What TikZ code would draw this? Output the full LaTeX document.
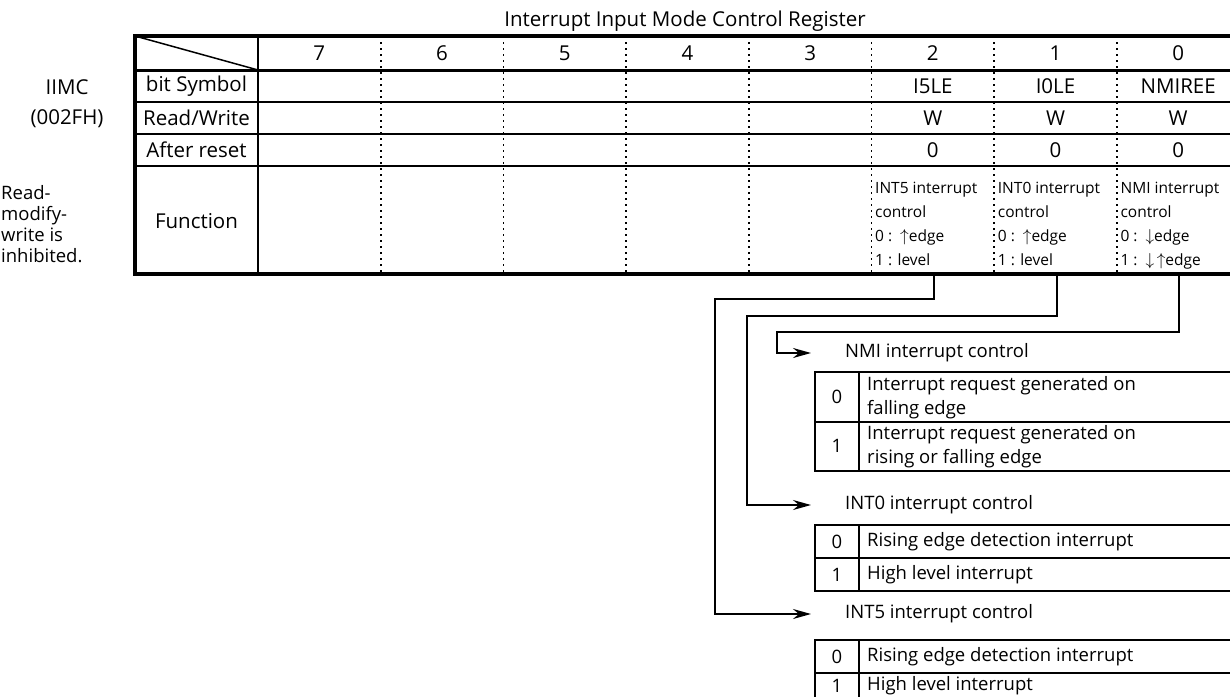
\documentclass[tikz,border=0pt]{standalone}
\usepackage{fontspec}
\setmainfont{Open Sans}
\usetikzlibrary{arrows.meta}

\begin{document}
\begin{tikzpicture}[x=1pt,y=-1pt,
    >={Stealth[length=18pt,width=10pt,inset=6pt]},
    txt/.style={font=\fontsize{20.5}{23}\selectfont,inner sep=0pt},
    sub/.style={font=\fontsize{18.5}{24}\selectfont,inner sep=0pt},
    fntxt/.style={font=\fontsize{15.5}{24}\selectfont,inner sep=0pt,anchor=north west,align=left},
    dots/.style={line width=1.8pt,dash pattern=on 1.8pt off 4.2pt},
    rowline/.style={line width=1.5pt},
    wire/.style={line width=2pt}]

\clip (0,0) rectangle (1230,696);

\node[txt] (title) at (685,21) {Interrupt Input Mode Control Register};

% register name on the left
\node[txt] (iimc) at (67,87) {IIMC};
\node[txt] (addr) at (67,119) {(002FH)};
\node[sub,anchor=north west,align=left,font=\fontsize{18.5}{21}\selectfont] (rmw) at (1,185) {Read-\\modify-\\write is\\inhibited.};

% bit columns (dotted)
\draw[dots] (380.7,36) -- (380.7,274);
\draw[dots] (503.4,36) -- (503.4,274);
\draw[dots] (626.1,36) -- (626.1,274);
\draw[dots] (748.8,36) -- (748.8,274);
\draw[dots] (871.5,36) -- (871.5,274);
\draw[dots] (994.2,36) -- (994.2,274);
\draw[dots] (1116.9,36) -- (1116.9,274);

% rows
\draw[rowline] (135,102) -- (1240,102);
\draw[rowline] (135,134) -- (1240,134);
\draw[line width=2.5pt] (135,166) -- (1240,166);
\draw[line width=3pt] (135,70) -- (1240,70);
\draw[rowline] (258,36) -- (258,274);
\draw[rowline] (135,36) -- (258,70);
\draw[line width=3.5pt] (135,36) rectangle (1240,274);

\node[txt] (h7) at (319.3,53) {7};
\node[txt] (h6) at (442,53) {6};
\node[txt] (h5) at (564.7,53) {5};
\node[txt] (h4) at (687.4,53) {4};
\node[txt] (h3) at (810.1,53) {3};
\node[txt] (h2) at (932.8,53) {2};
\node[txt] (h1) at (1055.5,53) {1};
\node[txt] (h0) at (1178.2,53) {0};

\node[txt] (lsym) at (196.5,86) {bit Symbol};
\node[txt] (lrw) at (196.5,118) {Read/Write};
\node[txt] (lrst) at (196.5,150) {After reset};
\node[txt] (lfn) at (196.5,221) {Function};

\node[txt] (s2) at (932.8,86) {I5LE};
\node[txt] (s1) at (1055.5,86) {I0LE};
\node[txt] (s0) at (1178.2,86) {NMIREE};
\node[txt] (rw2) at (932.8,118) {W};
\node[txt] (rw1) at (1055.5,118) {W};
\node[txt] (rw0) at (1178.2,118) {W};
\node[txt] (r2) at (932.8,150) {0};
\node[txt] (r1) at (1055.5,150) {0};
\node[txt] (r0) at (1178.2,150) {0};

\newcommand{\up}{{\fontsize{19}{19}\selectfont$\uparrow$}}
\newcommand{\dn}{{\fontsize{19}{19}\selectfont$\downarrow$}}
\node[fntxt] (f2) at (875,182) {INT5 interrupt\\control\\0 : \,\up edge\\1 : level};
\node[fntxt] (f1) at (997.7,182) {INT0 interrupt\\control\\0 : \,\up edge\\1 : level};
\node[fntxt] (f0) at (1120.4,182) {NMI interrupt\\control\\0 : \,\dn edge\\1 : \,\dn\,\up edge};

% connectors
\coordinate (b2) at (934,274);
\coordinate (b1) at (1057,274);
\coordinate (b0) at (1179,274);
\coordinate (j2) at (715,299);
\coordinate (j1) at (747,316);
\coordinate (j0) at (777,332);
\coordinate (e0) at (811,353);
\coordinate (e1) at (811,505);
\coordinate (e2) at (811,614);

\draw[wire,->] (b0) |- (j0) |- (e0);
\draw[wire,->] (b1) |- (j1) |- (e1);
\draw[wire,->] (b2) |- (j2) |- (e2);

% NMI interrupt control
\node[sub,anchor=west] (nmi) at (845,353) {NMI interrupt control};
\draw[wire] (815,372) rectangle (1240,471);
\draw[wire] (815,422) -- (1240,422);
\draw[wire] (859,372) -- (859,471);
\node[sub] (nmi0) at (837,397) {0};
\node[sub] (nmi1) at (837,446) {1};
\node[sub,anchor=north west,align=left] (nmi0t) at (867,376) {Interrupt request generated on\\falling edge};
\node[sub,anchor=north west,align=left] (nmi1t) at (867,425) {Interrupt request generated on\\rising or falling edge};

% INT0 interrupt control
\node[sub,anchor=west] (int0) at (845,505) {INT0 interrupt control};
\draw[wire] (815,525) rectangle (1240,591);
\draw[wire] (815,558) -- (1240,558);
\draw[wire] (859,525) -- (859,591);
\node[sub] (int00) at (837,541.5) {0};
\node[sub] (int01) at (837,574.5) {1};
\node[sub,anchor=west] (int00t) at (867,541.5) {Rising edge detection interrupt};
\node[sub,anchor=west] (int01t) at (867,574.5) {High level interrupt};

% INT5 interrupt control
\node[sub,anchor=west] (int5) at (845,614) {INT5 interrupt control};
\draw[wire] (815,640) rectangle (1240,710);
\draw[wire] (815,673) -- (1240,673);
\draw[wire] (859,640) -- (859,710);
\node[sub] (int50) at (837,656.5) {0};
\node[sub] (int51) at (837,685.5) {1};
\node[sub,anchor=west] (int50t) at (867,656.5) {Rising edge detection interrupt};
\node[sub,anchor=west] (int51t) at (867,685.5) {High level interrupt};

\end{tikzpicture}
\end{document}
